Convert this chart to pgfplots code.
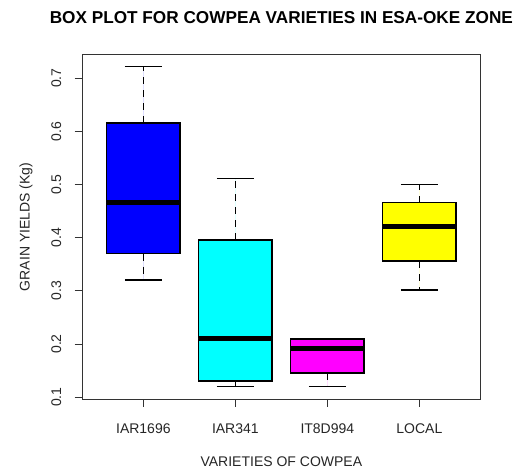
\documentclass[border=0pt]{standalone}
\usepackage{fontspec}
\setmainfont{Liberation Sans}
\usepackage{pgfplots}
\pgfplotsset{compat=1.18}
\usepgfplotslibrary{statistics}
\definecolor{rblue}{RGB}{0,0,255}
\definecolor{rcyan}{RGB}{0,255,255}
\definecolor{rmagenta}{RGB}{255,0,255}
\definecolor{ryellow}{RGB}{255,255,0}
\begin{document}
\begin{tikzpicture}
\pgfplotsset{
  boxplot/draw/lower whisker/.code={%
    \draw[/pgfplots/boxplot/every whisker/.try, dash pattern=on 7pt off 6pt]
      (boxplot box cs:\pgfplotsboxplotvalue{lower quartile},0.5) --
      (boxplot box cs:\pgfplotsboxplotvalue{lower whisker},0.5);
    \draw[/pgfplots/boxplot/every whisker/.try]
      (boxplot whisker cs:\pgfplotsboxplotvalue{lower whisker},0) --
      (boxplot whisker cs:\pgfplotsboxplotvalue{lower whisker},1);
  },
  boxplot/draw/upper whisker/.code={%
    \draw[/pgfplots/boxplot/every whisker/.try, dash pattern=on 7pt off 6pt]
      (boxplot box cs:\pgfplotsboxplotvalue{upper quartile},0.5) --
      (boxplot box cs:\pgfplotsboxplotvalue{upper whisker},0.5);
    \draw[/pgfplots/boxplot/every whisker/.try]
      (boxplot whisker cs:\pgfplotsboxplotvalue{upper whisker},0) --
      (boxplot whisker cs:\pgfplotsboxplotvalue{upper whisker},1);
  },
}
\path[use as bounding box, fill=white] (0,0) rectangle (516pt,471pt);
\begin{axis}[
  at={(82pt,71.7pt)}, anchor=south west,
  scale only axis, width=398.7pt, height=344.6pt,
  xmin=0.333, xmax=4.667, ymin=0.096, ymax=0.744,
  xtick={1,2,3,4}, xticklabels={IAR1696,IAR341,IT8D994,LOCAL},
  ytick={0.1,0.2,0.3,0.4,0.5,0.6,0.7},
  yticklabels={0.1,0.2,0.3,0.4,0.5,0.6,0.7},
  tick align=outside, xtick pos=bottom, ytick pos=left,
  major tick length=7.5pt,
  axis line style={black!80, line width=0.8pt},
  tick style={black!80, line width=0.8pt},
  tick label style={font=\fontsize{14}{16}\selectfont, text=black!85},
  xticklabel style={anchor=north, inner sep=0pt},
  yticklabel style={rotate=90, anchor=south, inner sep=0pt},
  xticklabel shift=17pt,
  yticklabel shift=13pt,
  title={BOX PLOT FOR COWPEA VARIETIES IN ESA-OKE ZONE},
  title style={at={(axis description cs:0.5,1.089)}, anchor=center, inner sep=0pt,
    font=\bfseries\fontsize{17.2}{20}\selectfont},
  xlabel={VARIETIES OF COWPEA},
  xlabel style={at={(axis description cs:0.5,-0.1811)}, anchor=center, inner sep=0pt,
    font=\fontsize{14}{16}\selectfont, text=black!85},
  ylabel={GRAIN YIELDS (Kg)},
  ylabel style={at={(axis description cs:-0.1405,0.5)}, anchor=center, inner sep=0pt,
    font=\fontsize{14}{16}\selectfont, text=black!85},
  boxplot/draw direction=y,
  boxplot/box extend=0.8,
  boxplot/whisker extend=0.4,
  boxplot/every box/.style={draw=black, line width=1.6pt},
  boxplot/every median/.style={draw=black, line width=4.8pt},
  boxplot/every whisker/.style={draw=black, line width=1.6pt},
]
\addplot+[mark=none, fill=rblue, draw=black, boxplot prepared={draw position=1,
  lower whisker=0.32, lower quartile=0.370, median=0.466,
  upper quartile=0.616, upper whisker=0.722}] coordinates {};
\addplot+[mark=none, fill=rcyan, draw=black, boxplot prepared={draw position=2,
  lower whisker=0.120, lower quartile=0.130, median=0.210,
  upper quartile=0.396, upper whisker=0.511}] coordinates {};
\addplot+[mark=none, fill=rmagenta, draw=black, boxplot prepared={draw position=3,
  lower whisker=0.120, lower quartile=0.146, median=0.191,
  upper quartile=0.209, upper whisker=0.209}] coordinates {};
\addplot+[mark=none, fill=ryellow, draw=black, boxplot prepared={draw position=4,
  lower whisker=0.302, lower quartile=0.356, median=0.421,
  upper quartile=0.466, upper whisker=0.500}] coordinates {};
\end{axis}
\end{tikzpicture}
\end{document}
